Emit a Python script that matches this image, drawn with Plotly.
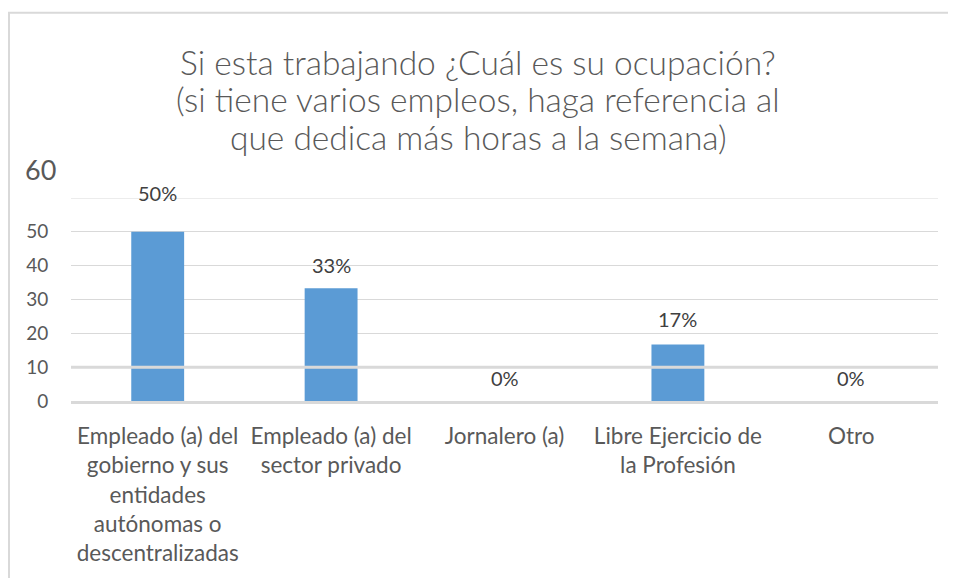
import plotly.graph_objects as go

categories = [
    "Empleado (a) del<br>gobierno y sus<br>entidades<br>autónomas o<br>descentralizadas",
    "Empleado (a) del<br>sector privado",
    "Jornalero (a)",
    "Libre Ejercicio de<br>la Profesión",
    "Otro",
]
values = [50, 33.33, 0, 16.67, 0]
value_labels = ["50%", "33%", "0%", "17%", "0%"]
y_ticks = [0, 10, 20, 30, 40, 50]
title_lines = [
    "Si esta trabajando ¿Cuál es su ocupación?",
    "(si tiene varios empleos, haga referencia al",
    "que dedica más horas a la semana)",
]

label_yshift = [39, 23, 23, 26, 23]

FONT = "Lato"
GRAY = "#595959"
GRID = "#d9d9d9"

# figure geometry (page body has an 8px margin)
W, H = 948, 570
ML, MR, MT, MB = 63, 18, 190, 173
PW, PH = W - ML - MR, H - MT - MB


def px_x(px):
    return (px - ML) / PW


def px_y(py):
    return (H - MB - py) / PH


fig = go.Figure()
fig.add_trace(go.Bar(
    x=categories, y=values, marker_color="#5B9BD5", width=0.305,
    marker_line_width=0, hoverinfo="skip",
))

for c, v, t, s in zip(categories, values, value_labels, label_yshift):
    fig.add_annotation(x=c, y=v, text=t, showarrow=False, yshift=s,
                       yanchor="middle", font=dict(family=FONT, size=20, color="#404040"))

# title as three centred lines
for line, py in zip(title_lines, [51, 89, 128]):
    fig.add_annotation(x=px_x(470), xref="paper", y=px_y(py), yref="paper",
                       text=line, showarrow=False, xanchor="center", yanchor="middle",
                       font=dict(family=FONT, size=33.5, color=GRAY, weight=300))

# top-axis "60" label
fig.add_annotation(x=px_x(ML - 13), xref="paper", y=60, yref="y", yshift=29,
                   xanchor="right", yanchor="middle", text="60", showarrow=False,
                   font=dict(family=FONT, size=27, color=GRAY))

# thicker line at 10 drawn over the bars
fig.add_hline(y=10, line=dict(color=GRID, width=3), layer="above")
fig.add_hline(y=60, line=dict(color=GRID, width=1), layer="below")

# chart border (left and top visible)
fig.add_shape(type="rect", xref="paper", yref="paper",
              x0=px_x(1), x1=px_x(W + 20), y0=px_y(H + 20), y1=px_y(1),
              line=dict(color=GRID, width=2), layer="below")

fig.update_layout(
    width=W, height=H,
    margin=dict(l=ML, r=MR, t=MT, b=MB),
    paper_bgcolor="white", plot_bgcolor="white",
    showlegend=False,
    xaxis=dict(showgrid=False, ticks="outside", ticklen=13, tickcolor="rgba(0,0,0,0)",
               tickfont=dict(family=FONT, size=22.5, color=GRAY),
               showline=True, linecolor=GRID, linewidth=3, zeroline=False),
    yaxis=dict(range=[0, 60], tickvals=y_ticks, showgrid=True, gridcolor=GRID, gridwidth=1,
               ticks="outside", ticklen=18, tickcolor="rgba(0,0,0,0)",
               tickfont=dict(family=FONT, size=19, color=GRAY),
               zeroline=False, showline=False),
)

fig.write_html("out.html")
